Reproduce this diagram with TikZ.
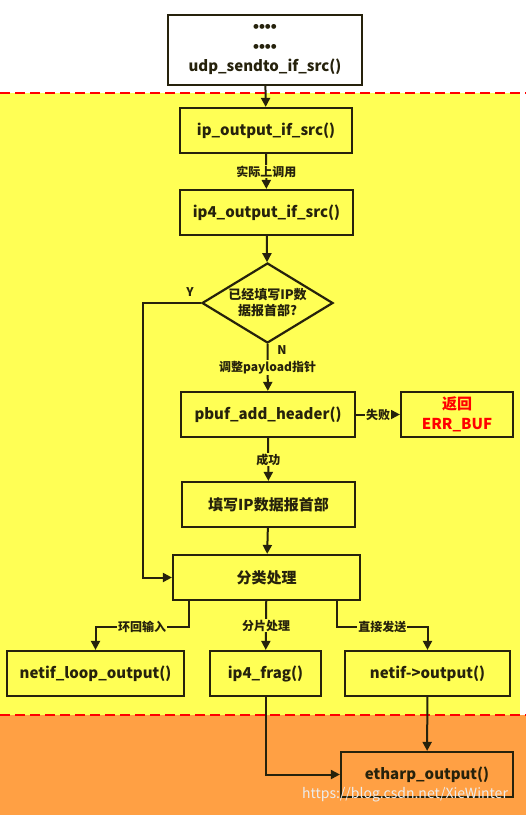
\documentclass[tikz,border=0pt]{standalone}
\usepackage{fontspec}
\setmainfont{Noto Sans CJK SC}
\newfontfamily\dotfont{Liberation Sans}
\usetikzlibrary{arrows.meta,positioning,shapes.geometric}

\definecolor{bgyellow}{RGB}{255,255,85}
\definecolor{bgorange}{RGB}{255,160,68}
\definecolor{lineink}{RGB}{38,34,12}

\tikzset{
  fbox/.style={draw=lineink,line width=2.2pt,fill=bgyellow,minimum height=45pt,
    inner sep=2pt,align=center,font=\bfseries\fontsize{15}{19.5}\selectfont,text=lineink},
  flow/.style={draw=lineink,line width=2pt,-{Triangle[length=9pt,width=9pt]}},
  lbl/.style={fill=bgyellow,inner sep=1pt,font=\bfseries\fontsize{12}{14}\selectfont,text=lineink},
  yn/.style={font=\bfseries\fontsize{12}{14}\selectfont,text=lineink},
  zone/.style={draw=red,line width=2.5pt,dash pattern=on 10pt off 5pt}
}

\begin{document}
\begin{tikzpicture}[x=1pt,y=-1pt]
\useasboundingbox (0,0) rectangle (526,815);
% background zones
\fill[bgyellow] (0,93) rectangle (520,715);
\fill[bgorange] (0,715) rectangle (526,815);
\draw[zone] (0,93) -- (526,93);
\draw[zone] (0,715) -- (526,715);

% nodes
\node[fbox,fill=white,minimum width=194pt,minimum height=70pt] (udp) at (265,50)
  {{\dotfont\fontsize{17}{19.5}\selectfont ••••}\\{\dotfont\fontsize{17}{19.5}\selectfont ••••}\\udp\_sendto\_if\_src()};
\node[fbox,minimum width=172pt] (ipout) at (266,130.5) {ip\_output\_if\_src()};
\node[fbox,minimum width=173pt] (ip4out) at (266.5,212.5) {ip4\_output\_if\_src()};
\node[draw=lineink,line width=2.2pt,shape=diamond,aspect=1.64,inner sep=0pt,
  minimum width=131pt,minimum height=80pt,align=center,
  font=\bfseries\fontsize{13}{16}\selectfont,text=lineink] (chk) at (267.5,303)
  {已经填写IP数\\据报首部?};
\node[fbox,minimum width=174pt] (pbuf) at (268,414.5) {pbuf\_add\_header()};
\node[fbox,minimum width=112pt,text=red] (errbuf) at (457,414.5) {返回\\ERR\_BUF};
\node[fbox,minimum width=173pt] (fillhdr) at (268.5,504.5) {填写IP数据报首部};
\node[fbox,minimum width=187pt] (classify) at (266.5,577.5) {分类处理};
\node[fbox,minimum width=177pt] (loop) at (95.5,673.5) {netif\_loop\_output()};
\node[fbox,minimum width=111pt] (frag) at (265.5,673.5) {ip4\_frag()};
\node[fbox,minimum width=165pt] (netout) at (427.5,673.5) {netif->output()};
\node[fbox,fill=bgorange,minimum width=172pt] (etharp) at (427,774.5) {etharp\_output()};
\coordinate (ybend) at (143,303);

% connectors
\draw[flow] (udp) -- (ipout);
\draw[flow] (ipout) -- node[lbl] {实际上调用} (ip4out);
\draw[flow] (ip4out) -- (chk);
\draw[flow] (chk.west) -- (ybend) |- (classify.west);
\node[yn] (yes) at (190,292) {Y};
\draw[flow] (chk.south) -- node[lbl] {调整payload指针} (pbuf);
\node[yn] (no) at (282,350) {N};
\draw[flow] (pbuf) -- node[lbl] {失败} (errbuf);
\draw[flow] (pbuf) -- node[lbl] {成功} (fillhdr);
\draw[flow] (fillhdr) -- (classify);
\draw[flow] ([xshift=17pt]classify.south west) -- ++(0,26)
  -| node[lbl,pos=0.25] {环回输入} (loop.north);
\draw[flow] (classify) -- node[lbl] {分片处理} (frag);
\draw[flow] ([xshift=-24pt]classify.south east) -- ++(0,26)
  -| node[lbl,pos=0.25] {直接发送} (netout.north);
\draw[flow] (frag.south) |- (etharp.west);
\draw[flow] (netout) -- (etharp);

% watermark
\node[text=white!85!gray,font=\fontsize{14}{16}\selectfont] (wm) at (405,795)
  {https://blog.csdn.net/XieWinter};
\end{tikzpicture}
\end{document}
